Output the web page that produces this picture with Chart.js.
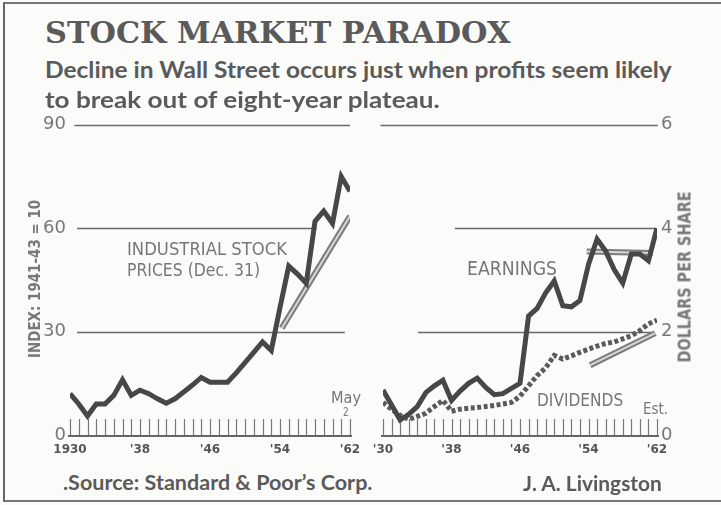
<!DOCTYPE html>
<html>
<head>
<meta charset="utf-8">
<script src="https://cdn.jsdelivr.net/npm/chart.js@4.4.1/dist/chart.umd.min.js"></script>
<style>
  html, body { margin: 0; padding: 0; }
  body {
    width: 721px; height: 505px; position: relative; overflow: hidden;
    background: #fbfbfa; color: #555; font-family: 'Lato', sans-serif;
  }
  .frame {
    position: absolute; left: 3px; top: 2px; width: 740px; height: 496px;
    border-left: 2px solid #666; border-top: 2px solid #777; border-bottom: 2px solid #777;
  }
  canvas { position: absolute; }
  .txt { position: absolute; white-space: nowrap; line-height: 1; transform-origin: 0 50%; }
  .vtxt { position: absolute; white-space: nowrap; line-height: 1; transform-origin: 0 0; }
</style>
</head>
<body>
<div class="frame"></div>
<canvas id="stockChart" width="370" height="360" style="left:0;top:110px"></canvas>
<canvas id="earnChart" width="361" height="360" style="left:360px;top:110px"></canvas>
<script>
// ---- data ----
const stockYears = [1930, 1931, 1932, 1933, 1934, 1935, 1936, 1937, 1938, 1939, 1940, 1941,
    1942, 1943, 1944, 1945, 1946, 1947, 1948, 1949, 1950, 1951, 1952, 1953, 1954, 1955,
    1956, 1957, 1958, 1959, 1960, 1961, 1962];
// Dec. 31 values, last point is May 2, 1962
const stockPrices = [12, 9, 5.5, 9, 9, 11.5, 16, 11.5, 13, 12, 10.5, 9.2,
    10.5, 12.5, 14.5, 16.7, 15.3, 15.3, 15.3, 18, 21, 24, 27, 24.5, 37, 49,
    46.7, 44, 62, 65, 61.4, 75, 70.7];
const stockTrendYears = [1954.2, 1962];
const stockTrend = [31, 63.5];

const earnYears = [1930, 1931, 1932, 1933, 1934, 1935, 1936, 1937, 1938, 1939, 1940, 1941,
    1942, 1943, 1944, 1945, 1946, 1947, 1948, 1949, 1950, 1951, 1952, 1953, 1954, 1955,
    1956, 1957, 1958, 1959, 1960, 1961, 1962];
const earnings = [0.87, 0.58, 0.29, 0.4, 0.55, 0.82, 0.95, 1.06, 0.67, 0.85, 1.0, 1.1,
    0.92, 0.78, 0.8, 0.9, 1.0, 2.3, 2.45, 2.75, 2.98, 2.5, 2.48, 2.6, 3.3, 3.79,
    3.56, 3.2, 2.94, 3.5, 3.5, 3.37, 4.0];
const dividends = [0.63, 0.5, 0.38, 0.3, 0.36, 0.42, 0.55, 0.67, 0.46, 0.5, 0.52, 0.53,
    0.55, 0.57, 0.6, 0.63, 0.75, 0.95, 1.15, 1.3, 1.54, 1.47, 1.53, 1.6, 1.66, 1.72,
    1.77, 1.8, 1.86, 1.92, 2.02, 2.15, 2.22];
const plateauYears = [1953.8, 1961.5];
const plateau = [3.55, 3.52];
const divTrendYears = [1954.2, 1961.8];
const divTrend = [1.35, 1.97];

const stockTicks = [0, 30, 60, 90];
const stockTickLabels = ['1930', "'38", "'46", "'54", "'62"];
const earnTicks = [0, 2, 4, 6];
const earnTickLabels = ["'30", "'38", "'46", "'54", "'62"];

const pts = (xs, ys) => xs.map((x, i) => ({ x: x, y: ys[i] }));

// horizontal rules that do not always run the full width, plus the ruler baseline
const panelLines = {
    id: 'panelLines',
    beforeDatasetsDraw(chart, args, opts) {
        const { ctx } = chart;
        const x = chart.scales.x, y = chart.scales.y;
        ctx.save();
        ctx.strokeStyle = '#6a6a6a';
        ctx.lineWidth = 1.6;
        opts.lines.forEach(l => {
            const py = Math.round(y.getPixelForValue(l.value)) + 0.5;
            ctx.beginPath();
            ctx.moveTo(x.getPixelForValue(l.from), py);
            ctx.lineTo(x.getPixelForValue(l.to), py);
            ctx.stroke();
        });
        // ruler: a tick for every year
        const base = y.getPixelForValue(0);
        ctx.strokeStyle = '#777';
        ctx.lineWidth = 1.2;
        for (let yr = 1930; yr <= 1962; yr++) {
            const px = Math.round(x.getPixelForValue(yr)) + 0.5;
            ctx.beginPath();
            ctx.moveTo(px, base);
            ctx.lineTo(px, base - 16);
            ctx.stroke();
        }
        ctx.strokeStyle = '#666';
        ctx.lineWidth = 2.2;
        ctx.beginPath();
        ctx.moveTo(x.getPixelForValue(1930) - 2, base + 1);
        ctx.lineTo(x.getPixelForValue(1962) + 2, base + 1);
        ctx.stroke();
        ctx.restore();
    }
};

const tickFont = { family: 'DejaVu Sans', size: 18 };
const yearFont = { family: 'DejaVu Sans', size: 12, weight: 'bold' };

function baseOptions(yMax, step, yTickLabels, yearLabels, yPos, yWidth, pad, lines) {
    return {
        responsive: false,
        animation: false,
        layout: { padding: pad },
        plugins: {
            legend: { display: false },
            tooltip: { enabled: false },
            panelLines: { lines: lines }
        },
        elements: { point: { radius: 0 }, line: { tension: 0, borderJoinStyle: 'miter' } },
        scales: {
            x: {
                type: 'linear', min: 1930, max: 1962,
                grid: { display: false, drawTicks: false },
                border: { display: false },
                ticks: {
                    stepSize: 8, padding: 8, color: '#555', font: yearFont,
                    maxRotation: 0,
                    callback: (v, i) => yearLabels[i]
                },
                afterFit: s => { s.height = 35; }
            },
            y: {
                position: yPos, min: 0, max: yMax,
                grid: { display: false, drawTicks: false },
                border: { display: false },
                ticks: {
                    stepSize: step, padding: 4, color: '#777', font: tickFont,
                    callback: v => yTickLabels.includes(v) ? String(v) : ''
                },
                afterFit: s => { s.width = yWidth; }
            }
        }
    };
}

// ===== LEFT: INDUSTRIAL STOCK PRICES =====
new Chart(document.getElementById('stockChart'), {
    type: 'line',
    data: {
        datasets: [
            { data: pts(stockYears, stockPrices), borderColor: '#474747', borderWidth: 5 },
            { data: pts(stockTrendYears, stockTrend), borderColor: '#d6d6d6', borderWidth: 2 },
            { data: pts(stockTrendYears, stockTrend), borderColor: '#7c7c7c', borderWidth: 6 }
        ]
    },
    options: baseOptions(90, 30, stockTicks, stockTickLabels, 'left', 70,
        { top: 13, right: 20 },
        [{ value: 90, from: 1930.5, to: 1962 },
         { value: 60, from: 1930.8, to: 1958.2 },
         { value: 30, from: 1930.8, to: 1961.4 }]),
    plugins: [panelLines]
});

// ===== RIGHT: EARNINGS & DIVIDENDS =====
new Chart(document.getElementById('earnChart'), {
    type: 'line',
    data: {
        datasets: [
            { data: pts(earnYears, earnings), borderColor: '#474747', borderWidth: 5 },
            { data: pts(earnYears, dividends), borderColor: '#5a5a5a', borderWidth: 5, borderDash: [4, 2.5] },
            { data: pts(plateauYears, plateau), borderColor: '#d6d6d6', borderWidth: 2 },
            { data: pts(plateauYears, plateau), borderColor: '#7c7c7c', borderWidth: 6 },
            { data: pts(divTrendYears, divTrend), borderColor: '#d6d6d6', borderWidth: 2 },
            { data: pts(divTrendYears, divTrend), borderColor: '#7c7c7c', borderWidth: 6 }
        ]
    },
    options: baseOptions(6, 2, earnTicks, earnTickLabels, 'right', 64,
        { top: 13, left: 23 },
        [{ value: 6, from: 1929.7, to: 1962.1 },
         { value: 4, from: 1938.4, to: 1961.8 },
         { value: 2, from: 1934.1, to: 1961.3 }]),
    plugins: [panelLines]
});

// ===== TEXT =====
function addText(t, x, cy, w, css) {
    const el = document.createElement('div');
    el.className = 'txt';
    el.textContent = t;
    Object.assign(el.style, css, { left: x + 'px', top: cy + 'px' });
    document.body.appendChild(el);
    const k = w / el.offsetWidth;
    el.style.transform = `translateY(-50%) scaleX(${k})`;
}

function addVText(t, cx, cy, len, css) {
    const el = document.createElement('div');
    el.className = 'vtxt';
    el.textContent = t;
    Object.assign(el.style, css, { left: cx + 'px', top: cy + 'px' });
    document.body.appendChild(el);
    const k = len / el.offsetWidth;
    el.style.transform = `rotate(-90deg) scaleX(${k}) translate(-50%, -50%)`;
}

const serif = { fontFamily: "'DejaVu Serif', serif", fontWeight: 'bold', color: '#5a5a5a' };
const sans = { fontFamily: "'Lato', sans-serif", fontWeight: 'bold', color: '#5a5a5a' };
const small = { fontFamily: "'DejaVu Sans', sans-serif", color: '#777' };

addText('STOCK MARKET PARADOX', 45, 33, 465, Object.assign({ fontSize: '30px' }, serif));
addText('Decline in Wall Street occurs just when profits seem likely', 45, 69, 627, Object.assign({ fontSize: '23px' }, sans));
addText('to break out of eight-year plateau.', 45, 99, 395, Object.assign({ fontSize: '23px' }, sans));

addText('INDUSTRIAL STOCK', 127, 249, 160, Object.assign({ fontSize: '18px' }, small));
addText('PRICES (Dec. 31)', 127, 270, 133, Object.assign({ fontSize: '18px' }, small));
addText('EARNINGS', 467, 268, 90, Object.assign({ fontSize: '19px' }, small));
addText('DIVIDENDS', 537, 400, 86, Object.assign({ fontSize: '17px' }, small));
addText('May', 331, 398, 30, Object.assign({ fontSize: '15px' }, small));
addText('2', 343, 412, 6, Object.assign({ fontSize: '12px' }, small));
addText('Est.', 643, 409, 25, Object.assign({ fontSize: '15px' }, small));

addText('.Source: Standard & Poor\u2019s Corp.', 63, 482, 309, Object.assign({ fontSize: '20px' }, sans));
addText('J. A. Livingston', 523, 483, 139, Object.assign({ fontSize: '20px' }, sans));

addVText('INDEX: 1941-43 = 10', 35, 279, 158, Object.assign({ fontSize: '16px', fontWeight: 'bold' }, small));
addVText('DOLLARS PER SHARE', 685, 277, 171, Object.assign({ fontSize: '17px', fontWeight: 'bold' }, small));
</script>
</body>
</html>
